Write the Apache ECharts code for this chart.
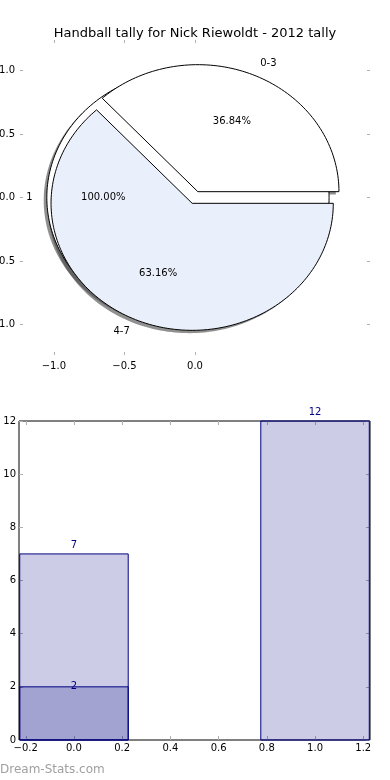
<!DOCTYPE html>
<html><head><meta charset="utf-8">
<script src="https://cdn.jsdelivr.net/npm/echarts@6/dist/echarts.min.js"></script>
<style>html,body{margin:0;padding:0;background:#fff}#c{width:390px;height:780px}</style>
</head><body><div id="c"></div>
<script>
// ---------- data ----------
const titleText = 'Handball tally for Nick Riewoldt - 2012 tally';
const pieCategories = ['0-3', '4-7'];
const pieValues = [7, 12];
const outerCategories = ['1'];
const outerValues = [1];
const pieXTicks = [-1, -0.5, 0];
const pieYTicks = [-1, -0.5, 0, 0.5, 1];
const barX = [0, 1];
const barSeriesA = [7, 12];
const barSeriesB = [2, null];
const barXTicks = [-0.2, 0, 0.2, 0.4, 0.6, 0.8, 1.0, 1.2];
const barYTicks = [0, 2, 4, 6, 8, 10, 12];
const watermark = 'Dream-Stats.com';

// ---------- styles ----------
const FONT = 'DejaVu Sans';
const pieColors = ['#ffffff', '#eaf0fb'];
const outerColor = '#ffffff';
const EXPLODE = 0.05;
const SHADOW = [-0.022, -0.022];
const BAR_W = 0.45;
const NAVY = '#000080';
const TICK = '#b0b0b0';

function buildSlices(labels, values, colors, layer) {
  const tot = values.reduce((a, b) => a + b, 0);
  let a = 0;
  return values.map((v, i) => {
    const t1 = a, t2 = a + 360 * v / tot; a = t2;
    const mid = (t1 + t2) / 2 * Math.PI / 180;
    return {
      label: labels[i], pct: (100 * v / tot).toFixed(2) + '%', t1, t2, mid,
      cx: EXPLODE * Math.cos(mid), cy: EXPLODE * Math.sin(mid),
      color: colors[i], layer
    };
  });
}
const slices = buildSlices(outerCategories, outerValues, [outerColor], 1)
  .concat(buildSlices(pieCategories, pieValues, pieColors, 2));

function wedgePts(api, cx, cy, t1, t2) {
  const pts = [];
  const full = Math.abs(t2 - t1 - 360) < 1e-9;
  if (!full) pts.push(api.coord([cx, cy]));
  const n = Math.max(12, Math.ceil((t2 - t1) / 1.5));
  for (let k = 0; k <= n; k++) {
    const t = (t1 + (t2 - t1) * k / n) * Math.PI / 180;
    pts.push(api.coord([cx + Math.cos(t), cy + Math.sin(t)]));
  }
  return pts;
}
function fmt(v) {
  return (v < 0 ? '\u2212' : '') + Math.abs(v).toFixed(1);
}

const chart = echarts.init(document.getElementById('c'), null, { renderer: 'canvas' });

function tickAxis(extra) {
  return Object.assign({
    type: 'value', splitLine: { show: false }, axisLine: { show: false, onZero: false },
  }, extra);
}

function barSeries(name, values, labelPos) {
  const data = [];
  barX.forEach((x, i) => { if (values[i] != null) data.push([x, values[i]]); });
  return {
    type: 'custom', name, xAxisIndex: 2, yAxisIndex: 2, clip: false,
    data,
    renderItem(params, api) {
      const x = api.value(0), v = api.value(1);
      const p1 = api.coord([x - BAR_W / 2, v]);
      const p2 = api.coord([x + BAR_W / 2, 0]);
      const top = api.coord([x, v]);
      return { type: 'group', children: [
        { type: 'rect', shape: { x: p1[0], y: p1[1], width: p2[0] - p1[0], height: p2[1] - p1[1] },
          style: { fill: 'rgba(0,0,128,0.2)', stroke: NAVY, lineWidth: 1 } },
        { type: 'text', z2: 10, style: { text: String(v), x: top[0], y: labelPos === 'top' ? top[1] - 9 : top[1],
          align: 'center', verticalAlign: 'middle', fontFamily: FONT, fontSize: 10, fill: NAVY } }
      ] };
    }
  };
}

const option = {
  animation: false,
  backgroundColor: '#fff',
  title: {
    text: titleText, left: 'center', top: 22,
    textStyle: { fontFamily: FONT, fontSize: 13, fontWeight: 'normal', color: '#000' }
  },
  grid: [
    { left: 20, right: 20, top: 40, height: 315, show: false, containLabel: false, outerBoundsMode: 'none' },
    { left: 19, right: 20, top: 421, bottom: 40, show: true, borderColor: '#000', borderWidth: 1,
      backgroundColor: 'transparent', containLabel: false, outerBoundsMode: 'none' }
  ],
  xAxis: [
    tickAxis({ gridIndex: 0, position: 'bottom', min: -1.24, max: 1.24,
      axisTick: { show: true, inside: true, length: 3, lineStyle: { color: TICK }, customValues: pieXTicks },
      axisLabel: { show: true, customValues: pieXTicks, formatter: fmt, fontFamily: FONT, fontSize: 10, color: '#000', margin: 6 } }),
    tickAxis({ gridIndex: 0, position: 'top', min: -1.24, max: 1.24,
      axisTick: { show: true, inside: true, length: 3, lineStyle: { color: TICK }, customValues: pieXTicks },
      axisLabel: { show: false } }),
    tickAxis({ gridIndex: 1, position: 'bottom', min: -0.228, max: 1.228,
      axisTick: { show: true, inside: true, length: 4, lineStyle: { color: TICK }, customValues: barXTicks },
      axisLabel: { show: true, customValues: barXTicks, formatter: fmt, fontFamily: FONT, fontSize: 10, color: '#000', margin: 3 } }),
    tickAxis({ gridIndex: 1, position: 'top', min: -0.228, max: 1.228,
      axisTick: { show: true, inside: true, length: 4, lineStyle: { color: TICK }, customValues: barXTicks },
      axisLabel: { show: false } })
  ],
  yAxis: [
    tickAxis({ gridIndex: 0, position: 'left', min: -1.24, max: 1.24,
      axisTick: { show: true, inside: true, length: 3, lineStyle: { color: TICK }, customValues: pieYTicks },
      axisLabel: { show: true, customValues: pieYTicks, formatter: fmt, fontFamily: FONT, fontSize: 10, color: '#000', margin: 5 } }),
    tickAxis({ gridIndex: 0, position: 'right', min: -1.24, max: 1.24,
      axisTick: { show: true, inside: true, length: 3, lineStyle: { color: TICK }, customValues: pieYTicks },
      axisLabel: { show: false } }),
    tickAxis({ gridIndex: 1, position: 'left', min: 0, max: 12,
      axisTick: { show: true, inside: true, length: 4, lineStyle: { color: TICK }, customValues: barYTicks },
      axisLabel: { show: true, customValues: barYTicks, formatter: v => String(v), fontFamily: FONT, fontSize: 10, color: '#000', margin: 3 } }),
    tickAxis({ gridIndex: 1, position: 'right', min: 0, max: 12,
      axisTick: { show: true, inside: true, length: 4, lineStyle: { color: TICK }, customValues: barYTicks },
      axisLabel: { show: false } })
  ],
  series: [
    {
      type: 'custom', name: 'pie', xAxisIndex: 0, yAxisIndex: 0, clip: false,
      data: slices.map(() => [0, 0]),
      renderItem(params, api) {
        const s = slices[params.dataIndex];
        const children = [];
        children.push({ type: 'polygon', z2: 0,
          shape: { points: wedgePts(api, s.cx + SHADOW[0], s.cy + SHADOW[1], s.t1, s.t2) },
          style: { fill: 'rgba(70,70,70,0.6)' } });
        children.push({ type: 'polygon', z2: s.layer * 2,
          shape: { points: wedgePts(api, s.cx, s.cy, s.t1, s.t2) },
          style: { fill: s.color, stroke: '#000', lineWidth: 1 } });
        const lx = s.cx + 1.1 * Math.cos(s.mid), ly = s.cy + 1.1 * Math.sin(s.mid);
        const lp = api.coord([lx, ly]);
        children.push({ type: 'text', z2: 20,
          style: { text: s.label, x: lp[0], y: lp[1], align: lx < 0 ? 'right' : 'left', verticalAlign: 'middle',
            fontFamily: FONT, fontSize: 10, fill: '#000' } });
        const pp = api.coord([s.cx + 0.6 * Math.cos(s.mid), s.cy + 0.6 * Math.sin(s.mid)]);
        children.push({ type: 'text', z2: 20,
          style: { text: s.pct, x: pp[0], y: pp[1], align: 'center', verticalAlign: 'middle',
            fontFamily: FONT, fontSize: 10, fill: '#000' } });
        return { type: 'group', children };
      }
    },
    barSeries('A', barSeriesA, 'top'),
    barSeries('B', barSeriesB, 'middle')
  ],
  graphic: [{
    type: 'text', left: 0, top: 764,
    style: { text: watermark, fontFamily: FONT, fontSize: 12, fontWeight: 'normal', fill: '#a0a0a0' }
  }]
};

chart.setOption(option);
</script>
</body></html>
